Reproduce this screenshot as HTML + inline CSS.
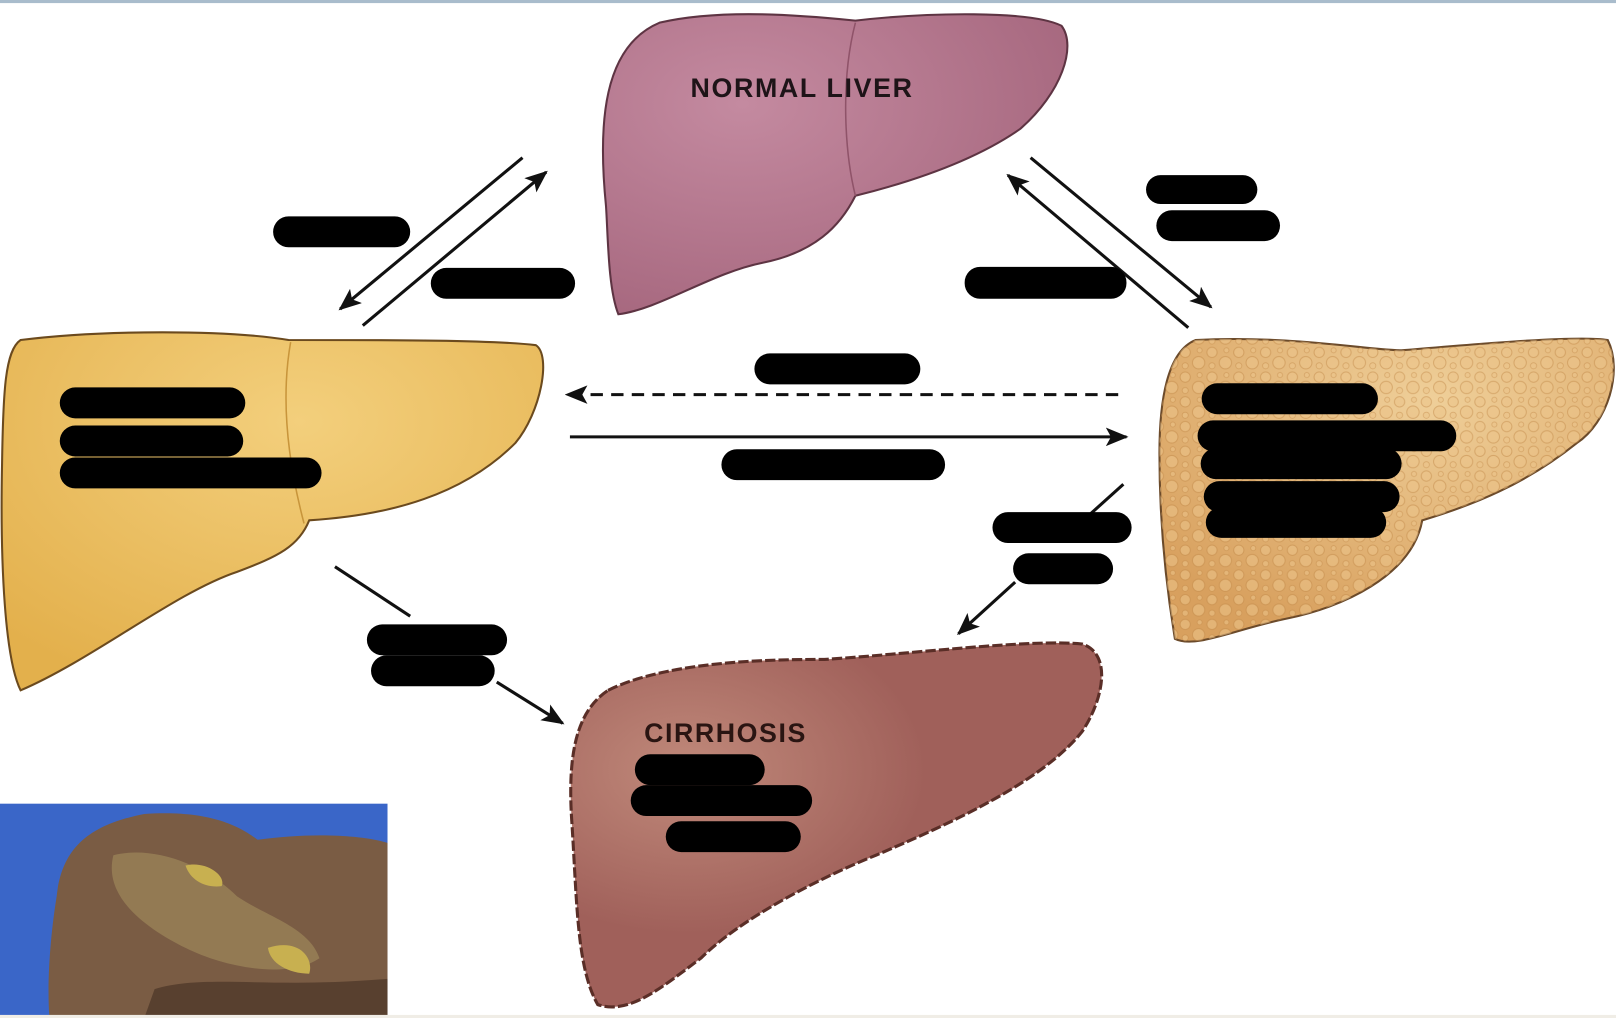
<!DOCTYPE html>
<html><head><meta charset="utf-8"><style>
html,body{margin:0;padding:0;background:#fff;}
svg{display:block;}
</style></head><body>
<svg width="1616" height="1018" viewBox="0 0 1568 988" preserveAspectRatio="none" xmlns="http://www.w3.org/2000/svg">
<defs>
<marker id="ah2" markerWidth="22" markerHeight="18" refX="20" refY="9" orient="auto" markerUnits="userSpaceOnUse" viewBox="0 0 22 18">
<path d="M0,0 L22,9 L0,18 L5,9 Z" fill="#111"/></marker>
<radialGradient id="gp" cx="0.3" cy="0.3" r="0.8"><stop offset="0" stop-color="#c48aa0"/><stop offset="1" stop-color="#a5667d"/></radialGradient>
<radialGradient id="gy" cx="0.55" cy="0.25" r="0.8"><stop offset="0" stop-color="#f3cf7c"/><stop offset="1" stop-color="#e3b04c"/></radialGradient>
<radialGradient id="gf" cx="0.6" cy="0.2" r="0.8"><stop offset="0" stop-color="#efcf99"/><stop offset="1" stop-color="#d8a05e"/></radialGradient>
<radialGradient id="gc" cx="0.22" cy="0.35" r="0.45"><stop offset="0" stop-color="#c0897a"/><stop offset="1" stop-color="#a0605a"/></radialGradient>
<pattern id="bub" width="26" height="24" patternUnits="userSpaceOnUse">
<circle cx="6" cy="6" r="5" fill="#ecc48a" stroke="#c68f4f" stroke-width="1"/>
<circle cx="19" cy="16" r="6" fill="#ecc48a" stroke="#c68f4f" stroke-width="1"/>
<circle cx="20" cy="4" r="2.5" fill="#ecc48a" stroke="#c68f4f" stroke-width="0.8"/>
<circle cx="6" cy="19" r="3" fill="#ecc48a" stroke="#c68f4f" stroke-width="0.8"/>
</pattern>
</defs>
<rect x="0" y="0" width="1568" height="3" fill="#a9bccc"/>

<g>
<path d="M588,200 C580,120 585,45 640,22 C700,8 780,15 830,20 C900,12 1000,10 1030,25 C1045,45 1030,90 990,125 C940,160 870,180 830,190 C815,220 790,245 740,255 C690,265 640,300 600,305 C590,280 590,230 588,200 Z" fill="url(#gp)" stroke="#5e3443" stroke-width="2"/>
<path d="M830,22 C815,80 820,150 830,190" fill="none" stroke="#8f5369" stroke-width="1.5"/>
<text x="670" y="94" font-family="Liberation Sans, sans-serif" font-weight="bold" font-size="26" letter-spacing="1.6" fill="#1e1418">NORMAL LIVER</text>
</g>

<g>
<path d="M20,330 C100,320 220,320 280,330 C380,330 480,330 520,335 C535,345 525,400 500,430 C450,480 380,500 300,505 C290,530 270,540 230,555 C170,575 90,640 20,670 C5,640 0,550 2,450 C3,380 5,340 20,330 Z" fill="url(#gy)" stroke="#6b4a1e" stroke-width="2"/>
<path d="M282,332 C270,400 285,470 295,508" fill="none" stroke="#c8953b" stroke-width="1.5"/>
</g>

<g>
<path d="M1160,330 C1250,325 1330,340 1360,340 C1420,335 1530,325 1560,330 C1575,360 1560,410 1530,430 C1480,470 1430,490 1380,505 C1370,560 1300,590 1250,600 C1200,610 1160,630 1140,620 C1130,560 1125,500 1125,440 C1125,380 1135,340 1160,330 Z" fill="url(#gf)" stroke="#6b4a2a" stroke-width="2"/>
<path d="M1160,330 C1250,325 1330,340 1360,340 C1420,335 1530,325 1560,330 C1575,360 1560,410 1530,430 C1480,470 1430,490 1380,505 C1370,560 1300,590 1250,600 C1200,610 1160,630 1140,620 C1130,560 1125,500 1125,440 C1125,380 1135,340 1160,330 Z" fill="url(#bub)" opacity="0.55"/>
</g>

<g>
<path d="M590,670 C650,640 760,640 800,640 C880,635 1000,620 1050,625 C1080,635 1070,680 1050,710 C1010,760 920,800 850,830 C800,850 720,890 680,930 C640,960 610,985 580,975 C560,940 560,880 555,800 C550,730 560,690 590,670 Z" fill="url(#gc)" stroke="#5a2e27" stroke-width="3" stroke-dasharray="10 3"/>
<text x="625" y="720" font-family="Liberation Sans, sans-serif" font-weight="bold" font-size="26" letter-spacing="1.5" fill="#2a1512">CIRRHOSIS</text>
</g>

<rect x="0" y="780" width="376" height="208" fill="#3a66c8"/>
<path d="M55,870 C60,820 90,800 140,790 C200,786 230,800 250,815 C300,808 350,810 376,818 L376,988 L48,988 C45,950 50,900 55,870 Z" fill="#7a5c44"/>
<path d="M110,830 C150,820 200,840 230,870 C260,890 300,900 310,930 C280,950 220,940 180,920 C140,900 100,870 110,830 Z" fill="#9a8258" opacity="0.8"/>
<path d="M180,840 C200,835 220,850 215,860 C200,862 185,855 180,840 Z M260,920 C290,910 305,930 300,945 C280,945 262,935 260,920 Z" fill="#c8b050"/>
<path d="M150,960 C200,945 260,960 376,950 L376,988 L140,988 Z" fill="#4a3426" opacity="0.7"/>

<g stroke="#111" stroke-width="3" fill="none">
<line x1="507" y1="153" x2="330" y2="300" marker-end="url(#ah2)"/>
<line x1="352" y1="316" x2="530" y2="167" marker-end="url(#ah2)"/>
<line x1="1000" y1="153" x2="1175" y2="298" marker-end="url(#ah2)"/>
<line x1="1153" y1="318" x2="978" y2="170" marker-end="url(#ah2)"/>
<line x1="1085" y1="383" x2="550" y2="383" stroke-dasharray="12 8" marker-end="url(#ah2)"/>
<line x1="553" y1="424" x2="1093" y2="424" marker-end="url(#ah2)"/>
<line x1="325" y1="550" x2="398" y2="598"/>
<line x1="482" y1="662" x2="546" y2="702" marker-end="url(#ah2)"/>
<line x1="1090" y1="470" x2="1040" y2="515"/>
<line x1="985" y1="565" x2="930" y2="615" marker-end="url(#ah2)"/>
</g>

<g fill="#000">
<rect x="265" y="210" width="133" height="30" rx="15"/>
<rect x="418" y="260" width="140" height="30" rx="15"/>
<rect x="1112" y="170" width="108" height="28" rx="14"/>
<rect x="1122" y="204" width="120" height="30" rx="15"/>
<rect x="936" y="259" width="157" height="31" rx="15"/>
<rect x="732" y="343" width="161" height="30" rx="15"/>
<rect x="700" y="436" width="217" height="30" rx="15"/>
<rect x="58" y="376" width="180" height="30" rx="15"/>
<rect x="58" y="413" width="178" height="30" rx="15"/>
<rect x="58" y="444" width="254" height="30" rx="15"/>
<rect x="1166" y="372" width="171" height="30" rx="15"/>
<rect x="1162" y="408" width="251" height="30" rx="15"/>
<rect x="1165" y="435" width="195" height="30" rx="15"/>
<rect x="1168" y="467" width="190" height="30" rx="15"/>
<rect x="1170" y="492" width="175" height="30" rx="15"/>
<rect x="963" y="497" width="135" height="30" rx="15"/>
<rect x="983" y="537" width="97" height="30" rx="15"/>
<rect x="356" y="606" width="136" height="30" rx="15"/>
<rect x="360" y="636" width="120" height="30" rx="15"/>
<rect x="616" y="732" width="126" height="30" rx="15"/>
<rect x="612" y="762" width="176" height="30" rx="15"/>
<rect x="646" y="797" width="131" height="30" rx="15"/>
</g>
<rect x="0" y="985" width="1568" height="3" fill="#f0ede6"/>
</svg>
</body></html>
